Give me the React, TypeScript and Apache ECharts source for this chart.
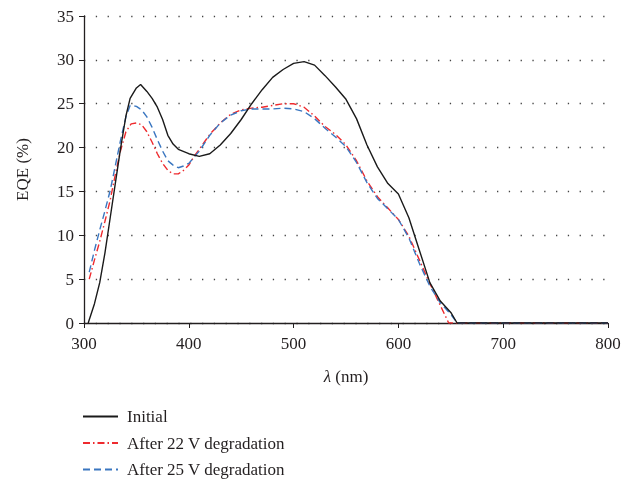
import React, { useEffect, useRef } from "react";
import * as echarts from "echarts";

const seriesNames = ["Initial", "After 22 V degradation", "After 25 V degradation"];

const initialData: [number, number][] = [
  [304, 0], [310, 2.2], [315, 4.6], [320, 8], [325, 12], [330, 16], [335, 20], [340, 23.6], [344, 25.6],
  [350, 26.8], [354, 27.2], [360, 26.4], [365, 25.6], [370, 24.6], [375, 23.2], [380, 21.4], [385, 20.4],
  [390, 19.8], [400, 19.3], [410, 19.0], [420, 19.3], [430, 20.3], [440, 21.6], [450, 23.2], [460, 25.0],
  [470, 26.6], [480, 28.0], [490, 28.9], [500, 29.6], [510, 29.8], [520, 29.4], [530, 28.2], [540, 26.9],
  [550, 25.5], [560, 23.3], [570, 20.3], [580, 17.8], [590, 15.9], [600, 14.7], [610, 12.0], [620, 8.3],
  [630, 4.6], [640, 2.5], [650, 1.2], [656, 0], [700, 0], [750, 0], [800, 0]
];

const deg22Data: [number, number][] = [
  [305, 5.0], [310, 7.2], [315, 9.3], [320, 11.6], [325, 14.0], [330, 17.0], [335, 19.7], [340, 21.8],
  [345, 22.7], [350, 22.8], [355, 22.6], [360, 21.8], [365, 20.6], [370, 19.3], [375, 18.2], [380, 17.4],
  [385, 17.0], [390, 17.0], [395, 17.4], [400, 18.0], [405, 19.0], [410, 19.8], [420, 21.5], [430, 22.8],
  [440, 23.8], [450, 24.3], [460, 24.5], [470, 24.6], [480, 24.8], [490, 25.0], [500, 25.0], [510, 24.6],
  [520, 23.6], [530, 22.4], [540, 21.5], [550, 20.3], [560, 18.5], [570, 16.2], [580, 14.4], [590, 13.1],
  [600, 11.8], [610, 9.9], [620, 7.2], [630, 4.5], [640, 2.0], [648, 0], [700, 0], [750, 0], [800, 0]
];

const deg25Data: [number, number][] = [
  [305, 5.8], [310, 8.3], [315, 10.6], [320, 12.8], [325, 15.1], [330, 18.0], [335, 20.9], [340, 23.5],
  [344, 24.8], [350, 24.7], [355, 24.3], [360, 23.5], [365, 22.3], [370, 20.9], [375, 19.6], [380, 18.5],
  [385, 18.0], [390, 17.7], [395, 17.9], [400, 18.2], [405, 18.9], [410, 19.6], [420, 21.4], [430, 22.8],
  [440, 23.7], [450, 24.2], [460, 24.4], [470, 24.4], [480, 24.4], [490, 24.5], [500, 24.4], [510, 24.1],
  [520, 23.3], [530, 22.2], [540, 21.2], [550, 20.1], [560, 18.3], [570, 16.0], [580, 14.2], [590, 13.0],
  [600, 11.8], [610, 9.7], [620, 6.8], [630, 4.2], [640, 2.3], [650, 1.0], [656, 0], [700, 0], [750, 0], [800, 0]
];

const FONT = "'Liberation Serif', 'Times New Roman', serif";
const TXT = "#231f20";

export default function App() {
  const ref = useRef<HTMLDivElement>(null);
  useEffect(() => {
    if (!ref.current) return;
    const chart = echarts.init(ref.current, null, { renderer: "svg" });
    chart.setOption({
      animation: false,
      textStyle: { fontFamily: FONT },
      grid: { left: 84, right: 34, top: 16, bottom: 158 },
      xAxis: {
        type: "value",
        min: 300,
        max: 800,
        interval: 100,
        name: "{i|λ} (nm)",
        nameLocation: "middle",
        nameGap: 45,
        nameTextStyle: {
          fontFamily: FONT,
          fontSize: 17,
          color: TXT,
          rich: { i: { fontStyle: "italic", fontFamily: FONT, fontSize: 17, color: TXT } },
        },
        axisLine: { lineStyle: { color: TXT, width: 1.3 } },
        axisTick: { show: true, length: 5, lineStyle: { color: TXT } },
        axisLabel: { color: TXT, fontSize: 17, fontFamily: FONT, margin: 12 },
        splitLine: { show: false },
      },
      yAxis: {
        type: "value",
        min: 0,
        max: 35,
        interval: 5,
        name: "EQE (%)",
        nameLocation: "middle",
        nameGap: 53,
        nameRotate: 90,
        nameTextStyle: { fontFamily: FONT, fontSize: 17, color: TXT },
        axisLine: { show: true, lineStyle: { color: TXT, width: 1.3 } },
        axisTick: { show: true, length: 5, lineStyle: { color: TXT } },
        axisLabel: { color: TXT, fontSize: 17, fontFamily: FONT, margin: 10 },
        splitLine: {
          show: true,
          lineStyle: { color: "#444", width: 1.3, type: [1.3, 10.5] },
        },
      },
      legend: {
        orient: "vertical",
        left: 79,
        top: 405,
        height: 80,
        padding: [3, 3, 0, 3],
        itemWidth: 35,
        itemHeight: 14,
        itemGap: 9.5,
        itemStyle: { opacity: 0 },
        textStyle: { fontFamily: FONT, fontSize: 17, color: TXT, lineHeight: 17, padding: [0, 0, 0, 4] },
        data: seriesNames,
      },
      series: [
        {
          name: seriesNames[0],
          type: "line",
          data: initialData,
          showSymbol: false,
          symbol: "none",
          lineStyle: { color: "#1a1a1a", width: 1.4 },
          itemStyle: { color: "#1a1a1a" },
          z: 3,
        },
        {
          name: seriesNames[1],
          type: "line",
          data: deg22Data,
          showSymbol: false,
          symbol: "none",
          lineStyle: { color: "#ee2a2e", width: 1.4, type: [7, 3, 1.5, 3] },
          itemStyle: { color: "#ee2a2e" },
          z: 2,
        },
        {
          name: seriesNames[2],
          type: "line",
          data: deg25Data,
          showSymbol: false,
          symbol: "none",
          lineStyle: { color: "#3a76c0", width: 1.4, type: [7, 4] },
          itemStyle: { color: "#3a76c0" },
          z: 2,
        },
      ],
    });
    return () => chart.dispose();
  }, []);
  return <div ref={ref} style={{ position: "fixed", left: 0, top: 0, width: 642, height: 481 }} />;
}
